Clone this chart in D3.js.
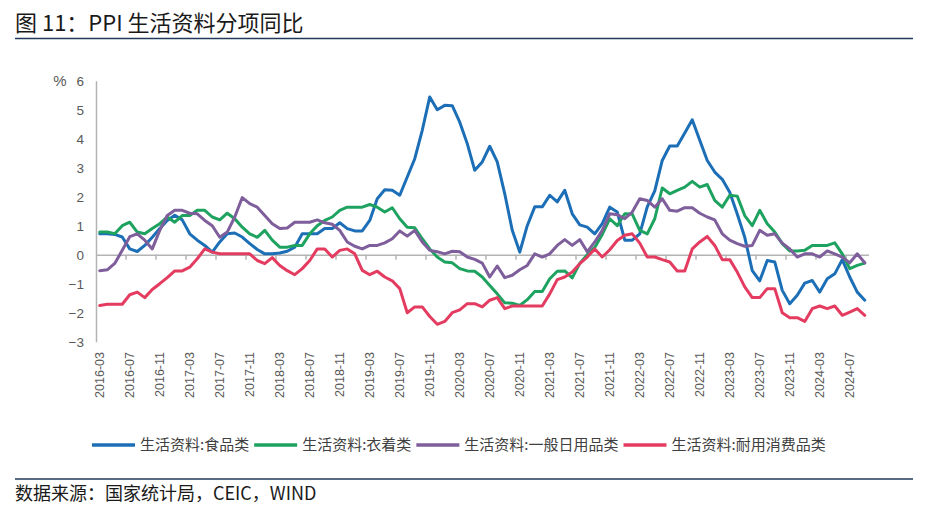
<!DOCTYPE html>
<html>
<head>
<meta charset="utf-8">
<script src="https://cdn.jsdelivr.net/npm/d3@7"></script>
<style>
  body { margin: 0; background: #fff; }
  svg { display: block; }
</style>
</head>
<body>
<div id="chart"></div>
<script>
// ---- data ----
const startMonth = "2016-03";
const endMonth = "2024-09";

const tickLabels = ["2016-03","2016-07","2016-11","2017-03","2017-07","2017-11","2018-03","2018-07","2018-11",
  "2019-03","2019-07","2019-11","2020-03","2020-07","2020-11","2021-03","2021-07","2021-11","2022-03","2022-07",
  "2022-11","2023-03","2023-07","2023-11","2024-03","2024-07"];

const yTicks = [6, 5, 4, 3, 2, 1, 0, -1, -2, -3];

const seriesNames = ["生活资料:食品类", "生活资料:衣着类", "生活资料:一般日用品类", "生活资料:耐用消费品类"];
const seriesColors = ["#1c6fb6", "#1ea25f", "#7e5e9b", "#e43c60"];

const food = [0.72,0.72,0.7,0.61,0.2,0.11,0.32,0.6,0.9,1.18,1.36,1.2,0.72,0.5,0.32,0.09,0.44,0.72,0.75,0.61,0.38,0.18,0.03,0.03,0.06,0.12,
  0.26,0.72,0.72,0.72,0.9,0.9,1.1,0.9,0.82,0.82,1.18,1.93,2.24,2.22,2.05,2.68,3.31,4.29,5.44,5.0,5.15,5.14,4.57,3.83,2.91,3.2,3.74,3.2,2.1,0.84,0.09,1.0,
  1.65,1.65,2.05,1.82,2.22,1.41,1.03,0.95,0.72,1.07,1.64,1.47,0.5,0.5,0.72,1.65,2.2,3.25,3.75,3.75,4.2,4.65,3.95,3.25,2.85,2.6,2.15,1.4,0.6,-0.55,-0.9,-0.2,
  -0.25,-1.23,-1.69,-1.4,-0.98,-0.89,-1.29,-0.83,-0.66,-0.17,-0.77,-1.29,-1.57];

const clothing = [0.78,0.78,0.72,1.0,1.12,0.78,0.72,0.9,1.07,1.3,1.12,1.35,1.35,1.53,1.53,1.3,1.2,1.43,1.24,0.95,0.72,0.6,0.84,0.5,0.26,0.26,
  0.32,0.32,0.72,1.0,1.18,1.3,1.53,1.64,1.64,1.64,1.73,1.64,1.47,1.62,1.24,0.95,0.93,0.55,0.2,-0.08,-0.25,-0.28,-0.48,-0.56,-0.57,-0.77,-1.06,-1.35,-1.66,-1.67,-1.75,-1.55,
  -1.27,-1.27,-0.83,-0.57,-0.56,-0.8,-0.3,0.0,0.25,0.7,1.24,1.0,1.41,1.4,0.84,0.72,1.24,2.3,2.1,2.22,2.33,2.53,2.33,2.42,1.87,1.64,2.05,2.02,1.35,1.0,1.53,1.07,
  0.78,0.38,0.13,0.13,0.15,0.32,0.32,0.32,0.41,0.03,-0.48,-0.37,-0.29];

const dailyUse = [-0.55,-0.52,-0.3,0.15,0.62,0.72,0.5,0.2,0.84,1.35,1.53,1.53,1.43,1.41,1.18,1.0,0.6,0.78,1.3,1.97,1.76,1.64,1.35,1.07,0.9,0.92,
  1.12,1.12,1.12,1.2,1.1,1.05,0.84,0.44,0.29,0.2,0.32,0.32,0.41,0.55,0.82,0.64,0.84,0.44,0.15,0.1,0.03,0.12,0.1,-0.08,-0.16,-0.29,-0.77,-0.39,-0.79,-0.71,-0.52,-0.37,
  0.03,-0.08,0.03,0.32,0.52,0.32,0.52,0.1,0.44,0.84,1.41,1.38,1.24,1.47,1.93,1.87,1.64,1.93,1.53,1.5,1.62,1.62,1.43,1.3,1.2,0.72,0.5,0.38,0.29,0.32,0.84,0.67,
  0.72,0.4,0.2,-0.08,0.03,0.03,-0.08,0.13,0.03,-0.08,-0.28,0.03,-0.28];

const durables = [-1.75,-1.71,-1.71,-1.71,-1.38,-1.29,-1.48,-1.2,-1.0,-0.79,-0.56,-0.56,-0.43,-0.14,0.2,0.09,0.03,0.03,0.03,0.03,0.03,-0.2,-0.31,-0.1,-0.37,-0.55,
  -0.69,-0.48,-0.2,0.2,0.2,-0.08,0.15,0.2,0.03,-0.54,-0.69,-0.57,-0.77,-0.9,-1.17,-2.0,-1.8,-1.8,-2.13,-2.4,-2.3,-2.0,-1.9,-1.69,-1.69,-1.8,-1.57,-1.48,-1.86,-1.77,-1.77,-1.77,
  -1.77,-1.77,-1.35,-0.86,-0.77,-0.6,-0.31,-0.08,0.2,-0.08,0.17,0.49,0.67,0.72,0.4,-0.08,-0.08,-0.17,-0.25,-0.56,-0.56,0.2,0.44,0.63,0.32,-0.17,-0.17,-0.6,-1.11,-1.48,-1.48,-1.17,
  -1.17,-2.0,-2.17,-2.17,-2.3,-1.86,-1.77,-1.86,-1.77,-2.09,-1.98,-1.86,-2.09];

const allSeries = [food, clothing, dailyUse, durables];

// ---- chart ----
const width = 933, height = 513;
const cjk = "'Noto Sans CJK SC', 'Noto Sans', sans-serif";
const latin = "'Liberation Sans', Arial, sans-serif";

const parseMonth = d3.utcParse("%Y-%m");
const fmtMonth = d3.utcFormat("%Y-%m");
const months = d3.utcMonth.range(parseMonth(startMonth), d3.utcMonth.offset(parseMonth(endMonth), 1)).map(fmtMonth);

const svg = d3.select("#chart").append("svg")
    .attr("width", width)
    .attr("height", height)
    .attr("viewBox", [0, 0, width, height]);

const x = d3.scaleBand()
    .domain(months)
    .range([96, 868.5])
    .padding(0);
const bw = x.bandwidth();

const y = d3.scaleLinear()
    .domain([-3, 6])
    .range([341.7, 80.7]);

// title
svg.append("text")
    .attr("x", 15)
    .attr("y", 31)
    .attr("font-family", cjk)
    .attr("font-size", 22)
    .attr("fill", "#1a1a1a")
    .text("图 11：PPI 生活资料分项同比");

svg.append("line")
    .attr("x1", 15).attr("x2", 913)
    .attr("y1", 38.5).attr("y2", 38.5)
    .attr("stroke", "#1f3a5a")
    .attr("stroke-width", 1.5);

// y axis
const yAxis = g => g
    .attr("transform", "translate(96,0)")
    .call(d3.axisLeft(y).tickValues(yTicks).tickSize(0).tickPadding(12).tickFormat(d3.format("d")))
    .call(g => g.select(".domain").attr("stroke", "#b4b4b4").attr("stroke-width", 1.5))
    .call(g => g.selectAll("text")
        .attr("font-family", latin)
        .attr("font-size", 13.5)
        .attr("fill", "#595959"));

svg.append("g").call(yAxis);

svg.append("text")
    .attr("x", 60)
    .attr("y", 81)
    .attr("dy", "0.35em")
    .attr("text-anchor", "middle")
    .attr("font-family", latin)
    .attr("font-size", 15)
    .attr("fill", "#595959")
    .text("%");

// x axis on the zero line
const xAxis = g => g
    .attr("transform", `translate(0,${y(0)})`)
    .call(d3.axisBottom(x).tickValues([]).tickSizeOuter(0))
    .call(g => g.select(".domain").attr("stroke", "#b4b4b4").attr("stroke-width", 1.5))
    .call(g => g.selectAll(".boundary")
        .data(tickLabels.slice(1))
        .join("line")
        .attr("class", "boundary")
        .attr("x1", d => x(d)).attr("x2", d => x(d))
        .attr("y1", 0).attr("y2", 5)
        .attr("stroke", "#b4b4b4")
        .attr("stroke-width", 1.5));

svg.append("g").call(xAxis);

svg.append("g")
    .selectAll("text")
    .data(tickLabels)
    .join("text")
    .attr("transform", d => `translate(${x(d) + bw / 2},352) rotate(-90)`)
    .attr("text-anchor", "end")
    .attr("dy", "0.35em")
    .attr("font-family", latin)
    .attr("font-size", 12.5)
    .attr("fill", "#595959")
    .text(d => d);

// lines
const line = d3.line()
    .x((d, i) => x(months[i]) + bw / 2)
    .y(d => y(d));

svg.append("g")
    .attr("fill", "none")
    .attr("stroke-width", 3)
    .attr("stroke-linejoin", "round")
    .attr("stroke-linecap", "round")
    .selectAll("path")
    .data(allSeries)
    .join("path")
    .attr("stroke", (d, i) => seriesColors[i])
    .attr("d", d => line(d));

// legend
const legend = svg.append("g").attr("transform", "translate(92,445)");
let lx = 0;
seriesNames.forEach((name, i) => {
    legend.append("line")
        .attr("x1", lx).attr("x2", lx + 43)
        .attr("y1", 0).attr("y2", 0)
        .attr("stroke", seriesColors[i])
        .attr("stroke-width", 3.5);
    const t = legend.append("text")
        .attr("x", lx + 48)
        .attr("y", 0)
        .attr("dy", "0.35em")
        .attr("font-family", cjk)
        .attr("font-size", 15)
        .attr("fill", "#404040")
        .text(name);
    lx += 48 + t.node().getComputedTextLength() + 5;
});

// source
svg.append("line")
    .attr("x1", 15).attr("x2", 913)
    .attr("y1", 479).attr("y2", 479)
    .attr("stroke", "#1f3a5a")
    .attr("stroke-width", 1.5);

svg.append("text")
    .attr("x", 15)
    .attr("y", 500)
    .attr("font-family", cjk)
    .attr("font-size", 18)
    .attr("fill", "#1a1a1a")
    .text("数据来源：国家统计局，CEIC，WIND");
</script>
</body>
</html>
